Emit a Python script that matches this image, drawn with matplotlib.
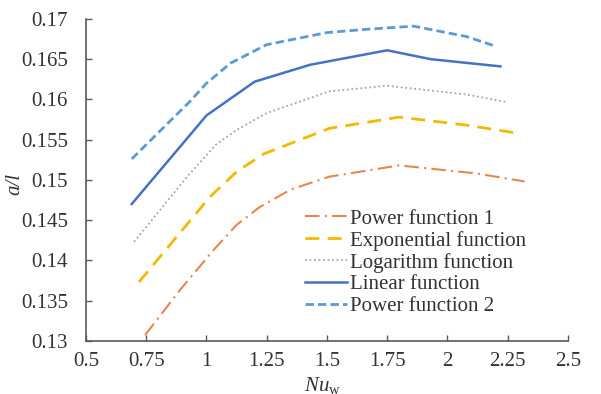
import matplotlib
matplotlib.use("Agg")
import matplotlib.pyplot as plt

# values
power1_x = [0.745, 0.89, 1.03, 1.125, 1.22, 1.35, 1.51, 1.8, 2.12, 2.32]
power1_y = [0.1307, 0.1363, 0.1413, 0.1444, 0.1466, 0.1488, 0.1504, 0.1518, 0.1508, 0.1498]

expo_x = [0.72, 1.015, 1.125, 1.236, 1.51, 1.8, 2.08, 2.29]
expo_y = [0.1373, 0.1479, 0.1510, 0.1532, 0.1564, 0.1578, 0.1568, 0.1558]

log_x = [0.70, 0.92, 1.04, 1.125, 1.25, 1.51, 1.75, 2.08, 2.24]
log_y = [0.1423, 0.1504, 0.1544, 0.1562, 0.1583, 0.1610, 0.1617, 0.1606, 0.1597]

linear_x = [0.69, 1.0, 1.2, 1.43, 1.75, 1.93, 2.22]
linear_y = [0.147, 0.158, 0.1622, 0.1643, 0.1661, 0.165, 0.1641]

power2_x = [0.69, 0.93, 1.0, 1.1, 1.25, 1.5, 1.66, 1.86, 2.08, 2.2]
power2_y = [0.1526, 0.1597, 0.162, 0.1645, 0.1668, 0.1683, 0.1687, 0.1691, 0.1678, 0.1666]

x_ticks = [0.5, 0.75, 1, 1.25, 1.5, 1.75, 2, 2.25, 2.5]
x_labels = ["0.5", "0.75", "1", "1.25", "1.5", "1.75", "2", "2.25", "2.5"]
y_ticks = [0.13, 0.135, 0.14, 0.145, 0.15, 0.155, 0.16, 0.165, 0.17]
y_labels = ["0.13", "0.135", "0.14", "0.145", "0.15", "0.155", "0.16", "0.165", "0.17"]

plt.rcParams["font.family"] = ["Liberation Serif", "DejaVu Serif"]
plt.rcParams["mathtext.fontset"] = "custom"
plt.rcParams["mathtext.rm"] = "Liberation Serif"
plt.rcParams["mathtext.it"] = "Liberation Serif:italic"

text_color = "#333333"
fs = 15

fig = plt.figure(figsize=(6.01, 3.94), dpi=100)
ax = fig.add_axes([0.143, 0.135, 0.802, 0.817])

ax.plot(power1_x, power1_y, color="#E8864E", linewidth=1.5,
        linestyle=(0, (7, 2.5, 1, 2.5)), label="Power function 1")
ax.plot(expo_x, expo_y, color="#F5B800", linewidth=2.0,
        linestyle=(0, (5, 3)), label="Exponential function")
ax.plot(log_x, log_y, color="#A5A5A5", linewidth=1.3,
        linestyle=(0, (1, 1.5)), label="Logarithm function")
ax.plot(linear_x, linear_y, color="#4472C4", linewidth=1.8,
        linestyle="-", label="Linear function")
ax.plot(power2_x, power2_y, color="#5B9BD5", linewidth=2.0,
        linestyle=(0, (3, 1.5)), label="Power function 2")

ax.set_xlim(0.5, 2.5)
ax.set_ylim(0.13, 0.17)
ax.set_xticks(x_ticks)
ax.set_xticklabels(x_labels)
ax.set_yticks(y_ticks)
ax.set_yticklabels(y_labels)
ax.tick_params(direction="in", length=4, width=1, colors="#595959",
               labelcolor=text_color, labelsize=fs)
ax.tick_params(axis="x", pad=8)
ax.tick_params(axis="y", pad=13)

for side in ["top", "right"]:
    ax.spines[side].set_visible(False)
for side in ["left", "bottom"]:
    ax.spines[side].set_color("#595959")
    ax.spines[side].set_linewidth(1.2)

fig.text(15 / 601, 1 - 184 / 394, "a/l", rotation=90, style="italic",
         fontsize=fs, color=text_color, ha="center", va="center")
fig.text(323 / 601, 1 - 385 / 394, r"$Nu_{\mathrm{w}}$", fontsize=fs,
         color=text_color, ha="center", va="center")

leg = ax.legend(loc="upper left", bbox_to_anchor=(305 / 601, 1 - 209 / 394),
                bbox_transform=fig.transFigure, frameon=False, fontsize=fs,
                handlelength=2.0, handletextpad=0.15, labelspacing=0.1,
                borderpad=0, borderaxespad=0)
for t in leg.get_texts():
    t.set_color(text_color)

fig.savefig("out.png", dpi=100)
